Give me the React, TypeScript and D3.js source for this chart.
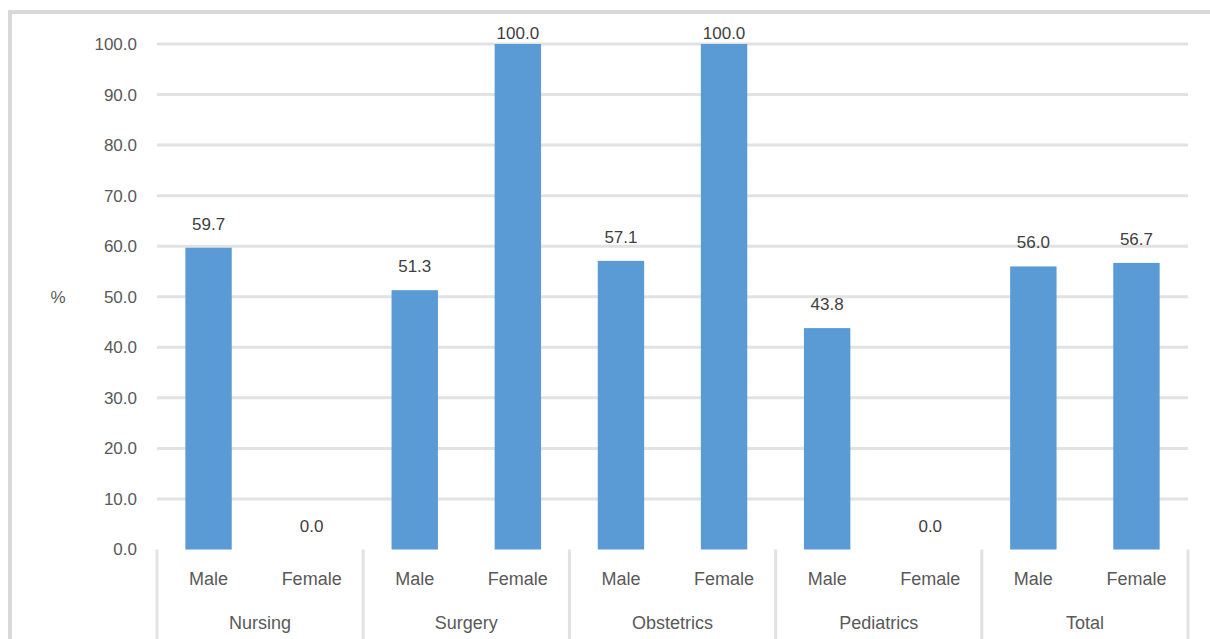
import React from "react";
import * as d3 from "d3";

// Occupancy by ward and sex (%)
const groups = ["Nursing", "Surgery", "Obstetrics", "Pediatrics", "Total"];
const sexes = ["Male", "Female"];
const maleValues = [59.7, 51.3, 57.1, 43.8, 56.0];
const femaleValues = [0.0, 100.0, 100.0, 0.0, 56.7];
const yTicks = [0, 10, 20, 30, 40, 50, 60, 70, 80, 90, 100];
const yTitle = "%";

const W = 1210;
const H = 639;
const plot = { left: 157, right: 1188, top: 44, bottom: 549.5 };
const BLUE = "#5B9BD5";
const GRID = "#E2E2E2";
const TEXT = "#595959";
const FONT = "'Liberation Sans', Arial, sans-serif";

export default function App() {
  const rows = groups.flatMap((g, gi) => [
    { group: g, gi, sex: sexes[0], value: maleValues[gi] },
    { group: g, gi, sex: sexes[1], value: femaleValues[gi] },
  ]);

  const x = d3
    .scaleBand<number>()
    .domain(d3.range(rows.length))
    .range([plot.left, plot.right])
    .paddingInner(0.55)
    .paddingOuter(0.275);

  const y = d3.scaleLinear().domain([0, 100]).range([plot.bottom, plot.top]);
  const groupW = (plot.right - plot.left) / groups.length;

  return (
    <svg
      width={W}
      height={H}
      style={{ position: "absolute", left: 0, top: 0, background: "#fff" }}
      fontFamily={FONT}
    >
      {/* chart frame */}
      <rect x={10} y={12} width={W + 20} height={H + 20} fill="none" stroke="#D9D9D9" strokeWidth={4} />

      {/* gridlines */}
      {yTicks.slice(1).map((t) => (
        <line key={t} x1={plot.left} x2={plot.right} y1={y(t)} y2={y(t)} stroke={GRID} strokeWidth={3} />
      ))}

      {/* y tick labels */}
      {yTicks.map((t) => (
        <text key={t} x={137} y={y(t)} dy="0.35em" textAnchor="end" fontSize={17} fill={TEXT}>
          {d3.format(".1f")(t)}
        </text>
      ))}
      <text x={58} y={y(50)} dy="0.35em" textAnchor="middle" fontSize={17} fill={TEXT}>
        {yTitle}
      </text>

      {/* bars */}
      {rows.map((r, i) => (
        <rect key={i} x={x(i)} y={y(r.value)} width={x.bandwidth()} height={y(0) - y(r.value)} fill={BLUE} />
      ))}

      {/* value labels */}
      {rows.map((r, i) => (
        <text
          key={i}
          x={(x(i) as number) + x.bandwidth() / 2}
          y={Math.max(y(r.value) - 18, 39)}
          textAnchor="middle"
          fontSize={17}
          fill="#404040"
        >
          {d3.format(".1f")(r.value)}
        </text>
      ))}

      {/* category separators */}
      {d3.range(groups.length + 1).map((k) => (
        <line
          key={k}
          x1={plot.left + k * groupW}
          x2={plot.left + k * groupW}
          y1={plot.bottom}
          y2={H}
          stroke="#E2E2E2"
          strokeWidth={3}
        />
      ))}

      {/* sex labels */}
      {rows.map((r, i) => (
        <text
          key={i}
          x={(x(i) as number) + x.bandwidth() / 2}
          y={579}
          dy="0.35em"
          textAnchor="middle"
          fontSize={18}
          fill={TEXT}
        >
          {r.sex}
        </text>
      ))}

      {/* group labels */}
      {groups.map((g, gi) => (
        <text
          key={g}
          x={plot.left + (gi + 0.5) * groupW}
          y={623}
          dy="0.35em"
          textAnchor="middle"
          fontSize={18}
          fill={TEXT}
        >
          {g}
        </text>
      ))}
    </svg>
  );
}
